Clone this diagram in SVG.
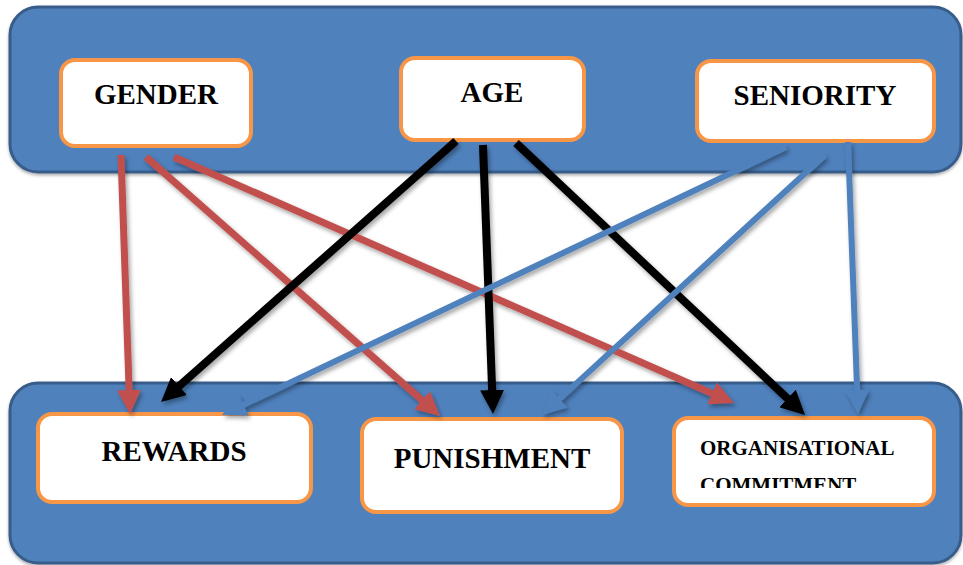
<svg xmlns="http://www.w3.org/2000/svg" width="963" height="565" viewBox="0 0 963 565">
<style>
.band{fill:#4f81bd;stroke:#385d8a;stroke-width:3}
.box{fill:#ffffff;stroke:#f79646;stroke-width:4}
.lbl{font-family:"Liberation Serif","Times New Roman",serif;font-weight:bold;font-size:29px;fill:#000;text-anchor:middle}
.sm{font-size:21px;text-anchor:start}
.red{stroke:#c0504d;stroke-width:7;fill:none;marker-end:url(#mRed)}
.blk{stroke:#000;stroke-width:8;fill:none;marker-end:url(#mBlk)}
.blu{stroke:#4f81bd;stroke-width:6;fill:none;marker-end:url(#mBlu)}
</style>
<defs>
<filter id="sh" x="-20%" y="-20%" width="140%" height="140%"><feDropShadow dx="2" dy="3" stdDeviation="2" flood-color="#000" flood-opacity="0.35"/></filter>
<filter id="bsh" x="-5%" y="-10%" width="110%" height="125%"><feDropShadow dx="0" dy="2" stdDeviation="1.5" flood-color="#000" flood-opacity="0.3"/></filter>
<marker id="mRed" viewBox="0 0 24 24" refX="2" refY="12" markerWidth="24" markerHeight="24" markerUnits="userSpaceOnUse" orient="auto"><path d="M0,0 L24,12 L0,24 z" fill="#c0504d"/></marker>
<marker id="mBlk" viewBox="0 0 24 24" refX="2" refY="12" markerWidth="24" markerHeight="24" markerUnits="userSpaceOnUse" orient="auto"><path d="M0,0 L24,12 L0,24 z" fill="#000"/></marker>
<marker id="mBlu" viewBox="0 0 24 24" refX="2" refY="12" markerWidth="24" markerHeight="24" markerUnits="userSpaceOnUse" orient="auto"><path d="M0,0 L24,12 L0,24 z" fill="#4f81bd"/></marker>
<clipPath id="orgClip"><rect x="680" y="420" width="250" height="68"/></clipPath>
</defs>
<g id="top-band" filter="url(#bsh)"><rect class="band" x="10" y="7" width="951" height="165" rx="28"/></g>
<g id="bottom-band" filter="url(#bsh)"><rect class="band" x="10" y="383" width="951" height="180" rx="28"/></g>
<g id="gender"><rect class="box" x="61" y="60" width="190" height="86" rx="14"/><text class="lbl" x="156" y="104">GENDER</text></g>
<g id="age"><rect class="box" x="401" y="58" width="183" height="82" rx="14"/><text class="lbl" x="492" y="102">AGE</text></g>
<g id="seniority"><rect class="box" x="697" y="61" width="237" height="80" rx="14"/><text class="lbl" x="815" y="105">SENIORITY</text></g>
<g id="rewards"><rect class="box" x="38" y="414" width="273" height="88" rx="14"/><text class="lbl" x="174" y="461">REWARDS</text></g>
<g id="punishment"><rect class="box" x="362" y="419" width="260" height="93" rx="14"/><text class="lbl" x="492" y="468">PUNISHMENT</text></g>
<g id="commitment"><rect class="box" x="674" y="418" width="260" height="87" rx="14"/><g clip-path="url(#orgClip)"><text class="lbl sm" x="700" y="455">ORGANISATIONAL</text><text class="lbl sm" x="700" y="492">COMMITMENT</text></g></g>
<g id="connectors" filter="url(#sh)">
<line class="red" x1="121" y1="155" x2="129.2" y2="392"/>
<line class="red" x1="146" y1="157" x2="423.5" y2="401.5"/>
<line class="red" x1="174" y1="157" x2="713.9" y2="394.2"/>
<line class="blk" x1="456" y1="141" x2="177.5" y2="387.4"/>
<line class="blk" x1="483" y1="145" x2="492.2" y2="392"/>
<line class="blk" x1="516" y1="143" x2="789" y2="399.9"/>
<line class="blu" x1="786" y1="147" x2="241.9" y2="405.6"/>
<line class="blu" x1="825" y1="155" x2="558.2" y2="400.1"/>
<line class="blu" x1="848" y1="142" x2="857.2" y2="392"/>
</g>
</svg>
